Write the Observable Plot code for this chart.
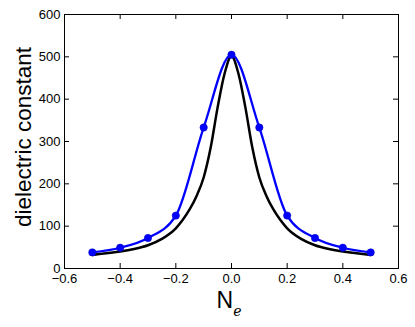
<!DOCTYPE html>
<html><head><meta charset="utf-8">
<script src="https://cdn.jsdelivr.net/npm/d3@7"></script>
<script src="https://cdn.jsdelivr.net/npm/@observablehq/plot@0.6"></script>
<style>body{margin:0;background:#fff}</style>
</head><body><div id="chart"></div>
<script>
const blueX = [-0.5,-0.4,-0.3,-0.2,-0.1,0,0.1,0.2,0.3,0.4,0.5];
const blueY = [38,49,72,125,333,505,333,125,72,49,38];
const blackX = [-0.5,-0.45,-0.4,-0.35,-0.3,-0.25,-0.2,-0.175,-0.15,-0.125,-0.1,-0.075,-0.05,-0.025,0,0.025,0.05,0.075,0.1,0.125,0.15,0.175,0.2,0.25,0.3,0.35,0.4,0.45,0.5];
const blackY = [32,36,40,46,55,70,95,115,140,172,215,285,380,460,502,460,380,285,215,172,140,115,95,70,55,46,40,36,32];
const xTicks = [-0.6,-0.4,-0.2,0,0.2,0.4,0.6];
const yTicks = [0,100,200,300,400,500,600];

const blue = blueX.map((x,i)=>({x, y: blueY[i]}));
const black = blackX.map((x,i)=>({x, y: blackY[i]}));

const W = 415, H = 327, mL = 64, mR = 17, mT = 14, mB = 59;
const pw = W - mL - mR, ph = H - mT - mB, tl = 5;

const chart = Plot.plot({
  width: W, height: H,
  marginLeft: mL, marginRight: mR, marginTop: mT, marginBottom: mB,
  style: {fontFamily: "'Liberation Sans', Arial, sans-serif", fontSize: "13px", color: "#000", background: "#fff"},
  x: {domain: [-0.6, 0.6]},
  y: {domain: [0, 600]},
  marks: [
    Plot.frame({stroke: "#000", strokeWidth: 1}),
    Plot.tickX(xTicks, {x: d => d, insetTop: ph - tl, stroke: "#000", strokeWidth: 1}),
    Plot.tickX(xTicks, {x: d => d, insetBottom: ph - tl, stroke: "#000", strokeWidth: 1}),
    Plot.tickY(yTicks, {y: d => d, insetRight: pw - tl, stroke: "#000", strokeWidth: 1}),
    Plot.tickY(yTicks, {y: d => d, insetLeft: pw - tl, stroke: "#000", strokeWidth: 1}),
    Plot.axisX(xTicks, {tickSize: 0, tickPadding: 5, tickFormat: d3.format(".1f"), label: null, fontSize: 13}),
    Plot.axisY(yTicks, {tickSize: 0, tickPadding: 4, tickFormat: d => String(d), label: null, fontSize: 13}),
    Plot.line(black, {x: "x", y: "y", stroke: "#000", strokeWidth: 2.5, curve: "monotone-x"}),
    Plot.line(blue, {x: "x", y: "y", stroke: "#0000ff", strokeWidth: 2.3, curve: "monotone-x"}),
    Plot.dot(blue, {x: "x", y: "y", r: 3.7, fill: "#0000ff", stroke: "#0000bb", strokeWidth: 0.5})
  ]
});

const svg = d3.select(chart);
svg.append("text")
  .attr("transform", "translate(31,137) rotate(-90)")
  .attr("text-anchor", "middle")
  .attr("font-family", "'Liberation Sans', Arial, sans-serif")
  .attr("font-size", 22.5)
  .attr("fill", "#000")
  .text("dielectric constant");
const xl = svg.append("text")
  .attr("x", 229).attr("y", 308)
  .attr("text-anchor", "middle")
  .attr("fill", "#000");
xl.append("tspan")
  .attr("font-family", "'Liberation Sans', Arial, sans-serif")
  .attr("font-size", 23)
  .text("N");
xl.append("tspan")
  .attr("font-family", "'DejaVu Serif', 'Liberation Serif', serif")
  .attr("font-style", "italic")
  .attr("font-size", 14)
  .attr("dy", 8)
  .text("e");

document.getElementById("chart").appendChild(chart);
</script>
</body></html>
